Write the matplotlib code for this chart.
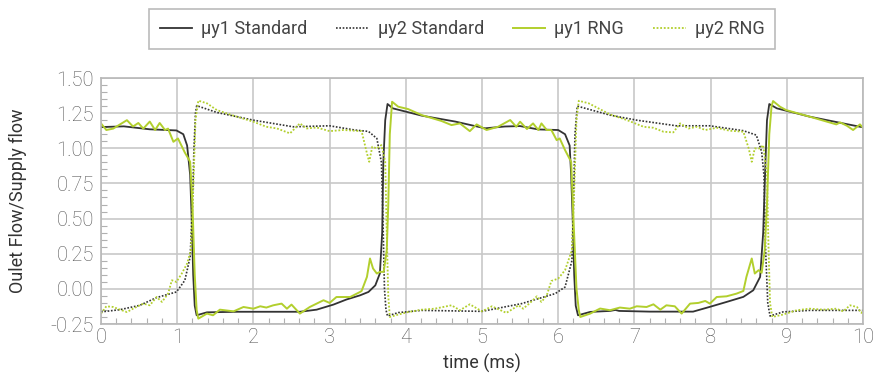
import numpy as np
import matplotlib.pyplot as plt
from matplotlib.ticker import MultipleLocator

# muy1 Standard (solid black)
y1_std_t = [0, 0.3, 0.64, 0.99, 1.08, 1.13, 1.17, 1.19, 1.21, 1.23, 1.255, 1.39, 1.8, 2.61,
            2.83, 3.05, 3.22, 3.40, 3.51, 3.60, 3.66, 3.69, 3.705, 3.73, 3.76, 3.83, 4.21,
            4.65, 5.04, 5.3, 5.5, 5.74, 6.0, 6.09, 6.15, 6.17, 6.19, 6.21, 6.23, 6.26, 6.42,
            6.68, 6.75, 6.8, 7.2, 7.77, 7.99, 8.21, 8.43, 8.56, 8.65, 8.69, 8.72, 8.74, 8.77,
            8.87, 9.30, 9.74, 10.0]
y1_std = [1.151, 1.156, 1.135, 1.127, 1.10, 1.02, 0.81, 0.5, 0.1, -0.12, -0.188, -0.167,
          -0.163, -0.163, -0.148, -0.112, -0.076, -0.046, -0.022, 0.025, 0.11, 0.4, 0.9,
          1.2, 1.315, 1.284, 1.232, 1.19, 1.142, 1.155, 1.158, 1.134, 1.13, 1.10, 1.02, 0.81,
          0.5, 0.1, -0.12, -0.188, -0.164, -0.157, -0.15, -0.157, -0.162, -0.162, -0.128,
          -0.093, -0.057, -0.01, 0.085, 0.4, 0.9, 1.2, 1.315, 1.284, 1.225, 1.177, 1.149]

# muy2 Standard (dotted black)
y2_std_t = [0, 0.25, 0.51, 0.73, 0.99, 1.10, 1.17, 1.20, 1.22, 1.24, 1.256, 1.52, 2.0, 2.52,
            3.0, 3.33, 3.51, 3.62, 3.68, 3.70, 3.72, 3.74, 3.76, 3.90, 4.21, 5.0, 5.52, 5.96,
            6.09, 6.18, 6.20, 6.22, 6.25, 6.68, 7.03, 7.55, 7.99, 8.43, 8.60, 8.67, 8.70,
            8.72, 8.75, 8.78, 8.95, 9.30, 10.0]
y2_std = [-0.164, -0.148, -0.117, -0.062, -0.022, 0.06, 0.227, 0.6, 1.0, 1.25, 1.303, 1.255,
          1.20, 1.153, 1.16, 1.13, 1.12, 1.07, 0.90, 0.5, 0.0, -0.15, -0.193, -0.169, -0.153,
          -0.16, -0.105, -0.034, 0.013, 0.2, 0.6, 1.1, 1.30, 1.236, 1.20, 1.16, 1.16, 1.125,
          1.094, 0.975, 0.81, 0.3, -0.1, -0.193, -0.164, -0.153, -0.153]

# muy1 RNG (solid green)
y1_rng_t = [0, 0.07, 0.16, 0.34, 0.42, 0.49, 0.555, 0.64, 0.71, 0.77, 0.84, 0.88, 0.95, 1.01,
            1.10, 1.17, 1.20, 1.23, 1.255, 1.277, 1.39, 1.47, 1.56, 1.74, 1.87, 2.0, 2.09,
            2.17, 2.26, 2.37, 2.44, 2.50, 2.61, 2.74, 2.92, 3.0, 3.09, 3.27, 3.40, 3.42, 3.49,
            3.53, 3.57, 3.62, 3.66, 3.71, 3.75, 3.77, 3.79, 3.82, 3.90, 4.03, 4.21, 4.47, 4.60,
            4.71, 4.84, 4.93, 5.06, 5.21, 5.37, 5.45, 5.50, 5.59, 5.67, 5.74, 5.78, 5.85,
            5.91, 5.98, 6.02, 6.09, 6.17, 6.20, 6.24, 6.27, 6.29, 6.42, 6.55, 6.68, 6.81, 6.94,
            7.03, 7.16, 7.25, 7.34, 7.42, 7.53, 7.62, 7.73, 7.84, 7.93, 7.99, 8.08, 8.21, 8.34,
            8.43, 8.47, 8.54, 8.58, 8.63, 8.67, 8.71, 8.74, 8.77, 8.80, 8.82, 8.91, 8.99, 9.30,
            9.65, 9.70, 9.79, 9.87, 9.96, 10.0]
y1_rng = [1.177, 1.13, 1.14, 1.20, 1.155, 1.18, 1.14, 1.19, 1.13, 1.18, 1.13, 1.14, 1.046,
          1.07, 0.97, 0.904, 0.6, 0.1, -0.15, -0.212, -0.176, -0.188, -0.148, -0.16, -0.129,
          -0.141, -0.124, -0.133, -0.117, -0.105, -0.141, -0.112, -0.176, -0.129, -0.081,
          -0.100, -0.058, -0.058, -0.022, -0.015, 0.085, 0.216, 0.145, 0.109, 0.121, 0.121,
          0.275, 0.6, 1.1, 1.331, 1.296, 1.279, 1.236, 1.194, 1.165, 1.177, 1.122, 1.170,
          1.130, 1.153, 1.201, 1.153, 1.189, 1.137, 1.177, 1.130, 1.177, 1.130, 1.130, 1.058,
          1.070, 0.987, 0.904, 0.5, 0.0, -0.15, -0.20, -0.176, -0.14, -0.152, -0.133, -0.141,
          -0.124, -0.129, -0.110, -0.148, -0.117, -0.124, -0.176, -0.105, -0.100, -0.086,
          -0.105, -0.058, -0.053, -0.034, -0.015, 0.085, 0.216, 0.109, 0.133, 0.114, 0.275,
          0.6, 1.1, 1.30, 1.336, 1.296, 1.272, 1.225, 1.170, 1.184, 1.160, 1.130, 1.170, 1.146]

# muy2 RNG (dotted green)
y2_rng_t = [0, 0.07, 0.16, 0.25, 0.34, 0.42, 0.555, 0.64, 0.73, 0.80, 0.88, 0.93, 0.99, 1.06,
            1.13, 1.18, 1.21, 1.24, 1.277, 1.39, 1.52, 1.74, 2.0, 2.17, 2.31, 2.48, 2.61, 2.70,
            2.83, 3.0, 3.18, 3.42, 3.49, 3.52, 3.56, 3.62, 3.68, 3.73, 3.75, 3.77, 3.79, 3.90,
            4.03, 4.21, 4.38, 4.60, 4.71, 4.84, 5.0, 5.13, 5.32, 5.48, 5.54, 5.63, 5.72, 5.78,
            5.85, 5.91, 6.00, 6.09, 6.18, 6.21, 6.24, 6.27, 6.40, 6.68, 6.90, 7.12, 7.25, 7.38,
            7.51, 7.60, 7.71, 7.82, 7.93, 8.08, 8.25, 8.43, 8.50, 8.54, 8.58, 8.65, 8.69, 8.74,
            8.76, 8.78, 8.81, 8.95, 9.13, 9.30, 9.48, 9.65, 9.74, 9.83, 9.92, 9.98, 10.0]
y2_rng = [-0.176, -0.124, -0.129, -0.148, -0.165, -0.141, -0.105, -0.117, -0.058, -0.093,
          -0.034, 0.061, 0.049, 0.109, 0.180, 0.275, 0.7, 1.2, 1.339, 1.320, 1.272, 1.232,
          1.189, 1.153, 1.141, 1.106, 1.177, 1.141, 1.148, 1.122, 1.130, 1.122, 0.964, 0.904,
          1.011, 0.999, 1.023, 0.904, 0.4, -0.05, -0.20, -0.183, -0.165, -0.148, -0.141,
          -0.117, -0.152, -0.110, -0.160, -0.124, -0.171, -0.117, -0.141, -0.100, -0.053,
          -0.093, -0.046, 0.056, 0.073, 0.133, 0.275, 0.7, 1.2, 1.338, 1.320, 1.241, 1.201,
          1.153, 1.146, 1.118, 1.113, 1.177, 1.141, 1.153, 1.130, 1.146, 1.125, 1.118, 0.999,
          0.904, 0.999, 0.999, 1.023, 0.809, 0.3, -0.1, -0.20, -0.183, -0.152, -0.141, -0.148,
          -0.141, -0.160, -0.117, -0.129, -0.171, -0.148]

dark = '#333333'
green = '#b2cf2d'
grid_col = '#c8c8c8'

plt.rcParams['font.family'] = ['Roboto', 'DejaVu Sans']

fig = plt.figure(figsize=(8.75, 3.85), dpi=100)
ax = fig.add_axes([101/875, 1-324/385, 762/875, 246/385])

dots = (0, (1, 1))
ax.plot(y1_std_t, y1_std, color=dark, lw=1.3, label='μy1 Standard')
ax.plot(y2_std_t, y2_std, color=dark, lw=1.2, ls=dots, label='μy2 Standard')
ax.plot(y1_rng_t, y1_rng, color=green, lw=1.4, label='μy1 RNG')
ax.plot(y2_rng_t, y2_rng, color=green, lw=1.3, ls=dots, label='μy2 RNG')

ax.set_xlim(0, 10)
ax.set_ylim(-0.25, 1.5)
ax.xaxis.set_major_locator(MultipleLocator(1))
ax.xaxis.set_minor_locator(MultipleLocator(0.2))
ax.yaxis.set_major_locator(MultipleLocator(0.25))
ax.yaxis.set_minor_locator(MultipleLocator(0.05))
ax.yaxis.set_major_formatter(plt.FormatStrFormatter('%.2f'))

ax.grid(True, which='major', color=grid_col, lw=1.2)
ax.set_axisbelow(True)
for s in ax.spines.values():
    s.set_color('#b8b8b8')
    s.set_linewidth(1.2)

ax.tick_params(which='major', direction='in', length=0, pad=5,
               labelsize=14.5, labelcolor='#555555')
ax.tick_params(axis='x', which='major', pad=3)
ax.tick_params(which='minor', direction='in', length=4, width=0.8, color='#b0b0b0')
for lab in ax.get_xticklabels() + ax.get_yticklabels():
    lab.set_fontweight('light')

ax.set_xlabel('time (ms)', fontsize=13, color=dark, labelpad=5)
ax.set_ylabel('Oulet Flow/Supply flow', fontsize=13, color=dark, labelpad=17)

leg = fig.legend(loc='center', bbox_to_anchor=(462/875, 1-29/385), ncol=4,
                 fontsize=13, frameon=True, fancybox=False, handlelength=1.8,
                 handletextpad=0.5, columnspacing=1.6, borderpad=0.6)
leg.get_frame().set_edgecolor('#aaaaaa')
leg.get_frame().set_linewidth(1.2)
for txt in leg.get_texts():
    txt.set_color('#444444')

fig.savefig('out.png', dpi=100)
